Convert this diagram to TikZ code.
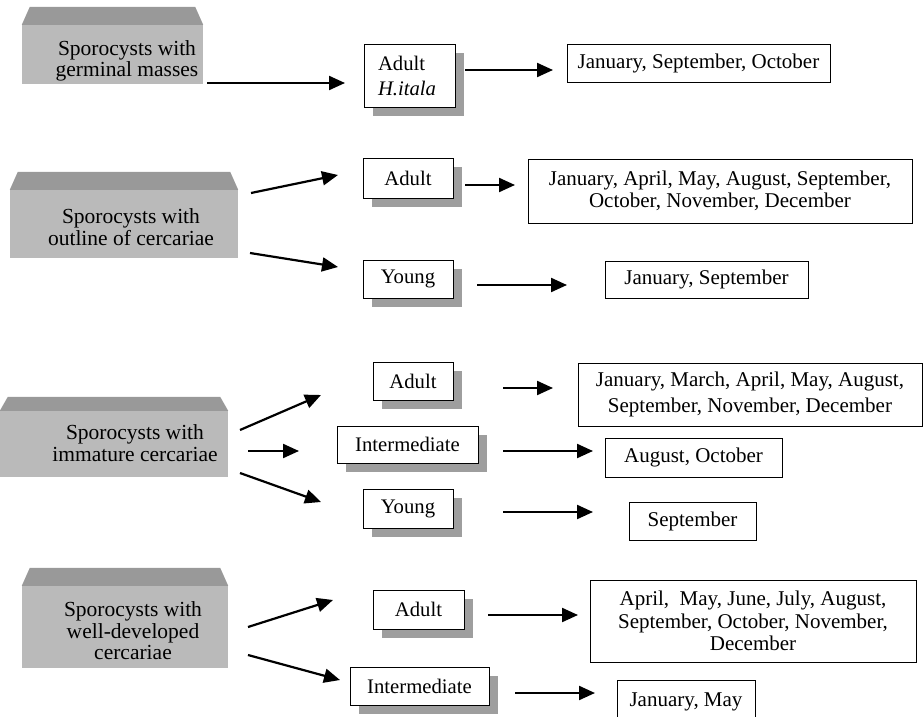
\documentclass[tikz,border=0pt]{standalone}
\usepackage{fontspec}
\setmainfont{Liberation Serif}
\usetikzlibrary{arrows.meta,shadows}
\begin{document}
\begin{tikzpicture}[x=1pt,y=-1pt,
  face/.style={fill=black!27, draw=none, inner sep=0pt},
  topface/.style={fill=black!40},
  lbl/.style={align=center, inner sep=0pt, font=\fontsize{21.5}{21.5}\selectfont},
  midbox/.style={draw, line width=0.8pt, fill=white, inner sep=0pt,
    font=\fontsize{20.7}{25}\selectfont,
    drop shadow={shadow xshift=9pt, shadow yshift=-9pt, fill=black!38, opacity=1}},
  rbox/.style={draw, line width=0.8pt, fill=white, align=center, inner sep=0pt,
    font=\fontsize{21}{22.5}\selectfont},
  arr/.style={line width=2.2pt, -{Triangle[length=16pt,width=14pt]}}
]
\useasboundingbox (0,0) rectangle (924,717);

% ---------- left 3D boxes ----------
\node[face, minimum width=181pt, minimum height=59pt] (s1) at (112.5,54.5) {};
\fill[topface] (s1.north west) -- ++(8,-18) -- ([shift={(-8,-18)}]s1.north east) -- (s1.north east) -- cycle;
\node[lbl] (s1t) at (127,61) {Sporocysts with\\germinal masses};

\node[face, minimum width=228pt, minimum height=68pt] (s2) at (124,224) {};
\fill[topface] (s2.north west) -- ++(8,-18) -- ([shift={(-8,-18)}]s2.north east) -- (s2.north east) -- cycle;
\node[lbl] (s2t) at (131,227) {Sporocysts with\\outline of cercariae};

\node[face, minimum width=228pt, minimum height=66pt] (s3) at (114,444) {};
\fill[topface] (s3.north west) -- ++(8,-14) -- ([shift={(-8,-14)}]s3.north east) -- (s3.north east) -- cycle;
\node[lbl] (s3t) at (135,443) {Sporocysts with\\immature cercariae};

\node[face, minimum width=206pt, minimum height=82pt] (s4) at (125,627) {};
\fill[topface] (s4.north west) -- ++(8,-18) -- ([shift={(-8,-18)}]s4.north east) -- (s4.north east) -- cycle;
\node[lbl] (s4t) at (133,631) {Sporocysts with\\well-developed\\cercariae};

% ---------- middle boxes ----------
\node[midbox, align=left, text width=63pt, inner xsep=14pt, minimum height=63pt] (a1) at (409.5,75.5) {Adult\\\textit{H.itala}};
\node[midbox, minimum width=90pt, minimum height=40pt] (a2) at (408,178) {Adult};
\node[midbox, minimum width=90pt, minimum height=38pt] (y2) at (408,279) {Young};
\node[midbox, minimum width=80pt, minimum height=38pt] (a3) at (413,381) {Adult};
\node[midbox, minimum width=141pt, minimum height=37pt] (i3) at (407.5,444.5) {Intermediate};
\node[midbox, minimum width=90pt, minimum height=39pt] (y3) at (408,508.5) {Young};
\node[midbox, minimum width=91pt, minimum height=39pt] (a4) at (418.5,609.5) {Adult};
\node[midbox, minimum width=139pt, minimum height=38pt] (i4) at (419.5,686) {Intermediate};

% ---------- right boxes ----------
\node[rbox, minimum width=263pt, minimum height=38pt] (r1) at (698.5,63) {January, September, October};
\node[rbox, minimum width=384pt, minimum height=64pt] (r2) at (720,191) {January, April, May, August, September,\\October, November, December};
\node[rbox, minimum width=203pt, minimum height=37pt] (r2y) at (706.5,279.5) {January, September};
\node[rbox, minimum width=344pt, minimum height=63pt, font=\fontsize{21}{26}\selectfont] (r3) at (750,394.5) {January, March, April, May, August,\\September, November, December};
\node[rbox, minimum width=177pt, minimum height=39pt] (r3i) at (693.5,457.5) {August, October};
\node[rbox, minimum width=127pt, minimum height=38pt] (r3y) at (692.5,521) {September};
\node[rbox, minimum width=326pt, minimum height=82pt] (r4) at (753,621) {April,\ \ May, June, July, August,\\September, October, November,\\December};
\node[rbox, minimum width=138pt, minimum height=44pt] (r4i) at (686,702) {January, May};

% ---------- arrow end points ----------
\coordinate (p1a) at (207,83);  \coordinate (p1b) at (345,83);
\coordinate (q1a) at (465,70);  \coordinate (q1b) at (553,70);
\coordinate (p2a) at (251,193); \coordinate (p2b) at (338,175);
\coordinate (p2c) at (250,253); \coordinate (p2d) at (338,267);
\coordinate (q2a) at (465,185); \coordinate (q2b) at (515,185);
\coordinate (q2c) at (477,285); \coordinate (q2d) at (567,285);
\coordinate (p3a) at (240,430); \coordinate (p3b) at (321,395);
\coordinate (p3c) at (248,451); \coordinate (p3d) at (299,451);
\coordinate (p3e) at (240,473); \coordinate (p3f) at (321,502);
\coordinate (q3a) at (503,388); \coordinate (q3b) at (553,388);
\coordinate (q3c) at (503,451); \coordinate (q3d) at (593,451);
\coordinate (q3e) at (503,512); \coordinate (q3f) at (593,512);
\coordinate (p4a) at (248,627); \coordinate (p4b) at (333,600);
\coordinate (p4c) at (248,655); \coordinate (p4d) at (340,680);
\coordinate (q4a) at (488,615); \coordinate (q4b) at (578,615);
\coordinate (q4c) at (515,693); \coordinate (q4d) at (595,693);

\draw[arr] (p1a) -- (p1b);
\draw[arr] (q1a) -- (q1b);
\draw[arr] (p2a) -- (p2b);
\draw[arr] (p2c) -- (p2d);
\draw[arr] (q2a) -- (q2b);
\draw[arr] (q2c) -- (q2d);
\draw[arr] (p3a) -- (p3b);
\draw[arr] (p3c) -- (p3d);
\draw[arr] (p3e) -- (p3f);
\draw[arr] (q3a) -- (q3b);
\draw[arr] (q3c) -- (q3d);
\draw[arr] (q3e) -- (q3f);
\draw[arr] (p4a) -- (p4b);
\draw[arr] (p4c) -- (p4d);
\draw[arr] (q4a) -- (q4b);
\draw[arr] (q4c) -- (q4d);
\end{tikzpicture}
\end{document}
